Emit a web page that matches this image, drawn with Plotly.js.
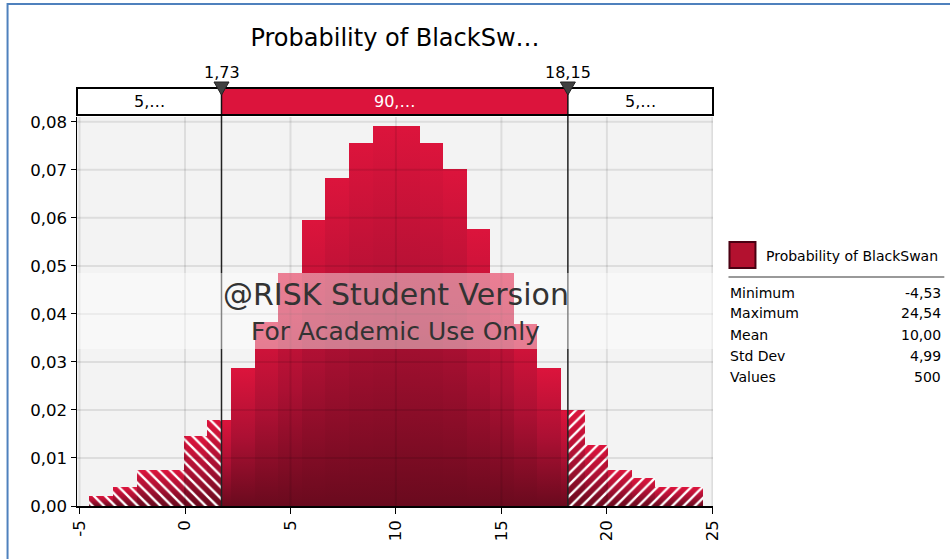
<!DOCTYPE html>
<html><head><meta charset="utf-8">
<script src="https://cdn.plot.ly/plotly-3.0.1.min.js"></script>
<style>html,body{margin:0;padding:0;background:#fff;overflow:hidden}#chart{width:950px;height:559px}
#chart path.js-fill{shape-rendering:crispEdges}</style>
</head><body><div id="chart"></div>
<script>
// ---- data ----
const binEdges = [-4.53, -3.41, -2.29, -1.18, -0.06, 1.06, 2.18, 3.30, 4.41, 5.53, 6.65, 7.77, 8.89,
  10.01, 11.12, 12.24, 13.36, 14.48, 15.60, 16.71, 17.83, 18.95, 20.07, 21.19, 22.30, 23.42, 24.54];
const density = [0.0021, 0.0039, 0.0076, 0.0076, 0.0146, 0.0180, 0.0287, 0.0384, 0.0485, 0.0595,
  0.0682, 0.0755, 0.0791, 0.0791, 0.0755, 0.0701, 0.0576, 0.0485, 0.0379, 0.0287, 0.0200, 0.0126,
  0.0076, 0.0058, 0.0039, 0.0039];
const cutLow = 1.73, cutHigh = 18.15;
const cutLabels = ['1,73', '18,15'];
const bandLabels = ['5,…', '90,…', '5,…'];
const xTicks = [-5, 0, 5, 10, 15, 20, 25];
const xTickLabels = ['-5', '0', '5', '10', '15', '20', '25'];
const yTicks = [0, 0.01, 0.02, 0.03, 0.04, 0.05, 0.06, 0.07, 0.08];
const yTickLabels = ['0,00', '0,01', '0,02', '0,03', '0,04', '0,05', '0,06', '0,07', '0,08'];
const titleText = 'Probability of BlackSw…';
const seriesName = 'Probability of BlackSwan';
const statNames = ['Minimum', 'Maximum', 'Mean', 'Std Dev', 'Values'];
const statValues = ['-4,53', '24,54', '10,00', '4,99', '500'];
const watermark = ['@RISK Student Version', 'For Academic Use Only'];

// ---- layout geometry (pixels) ----
const W = 950, H = 559, L = 77, R = 713.5, T = 117, B = 506;
const XMIN = -5.12, XMAX = 25.03;
const px = p => (p - L) / (R - L);
const py = p => (B - p) / (B - T);
const FONT = 'DejaVu Sans';
const crimson = '#DC143C', dark = '#6A0A1E';

const traces = [];
for (let i = 0; i < density.length; i++) {
  const a = binEdges[i], b = binEdges[i + 1], h = density[i];
  traces.push({
    type: 'scatter', mode: 'lines', x: [a, a, b, b, a], y: [0, h, h, 0, 0],
    fill: 'toself', fillcolor: crimson,
    fillgradient: {type: 'vertical', colorscale: [[0, dark], [0.5, '#AC1033'], [1, crimson]]},
    line: {width: 0, color: 'rgba(0,0,0,0)'}, hoverinfo: 'skip', showlegend: false
  });
}
function tailPolygon(lo, hi) {
  const xs = [], ys = [];
  let started = false, lastX = null;
  for (let i = 0; i < density.length; i++) {
    const a = Math.max(binEdges[i], lo), b = Math.min(binEdges[i + 1], hi);
    if (b <= a) continue;
    if (!started) { xs.push(a); ys.push(0); started = true; }
    xs.push(a, b); ys.push(density[i], density[i]);
    lastX = b;
  }
  xs.push(lastX, xs[0]); ys.push(0, 0);
  return {xs, ys};
}
const leftTail = tailPolygon(-1e9, cutLow), rightTail = tailPolygon(cutHigh, 1e9);
[[leftTail, '\\'], [rightTail, '/']].forEach(([p, sh]) => traces.push({
  type: 'scatter', mode: 'lines', x: p.xs, y: p.ys, fill: 'toself', fillcolor: 'rgba(0,0,0,0)',
  fillpattern: {shape: sh, fgcolor: '#FFFFFF', bgcolor: 'rgba(0,0,0,0)', size: 8, solidity: 0.3},
  line: {width: 0, color: 'rgba(0,0,0,0)'}, hoverinfo: 'skip', showlegend: false
}));

const shapes = [];
// grid lines drawn over the bars, like the reference
xTicks.forEach(v => shapes.push({type: 'line', layer: 'above', xref: 'x', yref: 'paper', x0: v, x1: v, y0: 0, y1: 1,
  line: {color: 'rgba(0,0,0,0.09)', width: 2}}));
yTicks.forEach(v => v > 0 && shapes.push({type: 'line', layer: 'above', xref: 'paper', yref: 'y', x0: 0, x1: 1, y0: v, y1: v,
  line: {color: 'rgba(0,0,0,0.09)', width: 2}}));
// cutoff lines
[cutLow, cutHigh].forEach(v => shapes.push({type: 'line', layer: 'above', xref: 'x', yref: 'paper', x0: v, x1: v,
  y0: 0, y1: py(88), line: {color: '#222', width: 1.5}}));
// top probability band
shapes.push({type: 'rect', layer: 'above', xref: 'paper', yref: 'paper', x0: 0, x1: 1, y0: py(115), y1: py(88),
  fillcolor: '#FFFFFF', line: {width: 0}});
shapes.push({type: 'rect', layer: 'above', xref: 'x', yref: 'paper', x0: cutLow, x1: cutHigh, y0: py(115), y1: py(88),
  fillcolor: crimson, line: {width: 0}});
[cutLow, cutHigh].forEach(v => shapes.push({type: 'line', layer: 'above', xref: 'x', yref: 'paper', x0: v, x1: v,
  y0: py(115), y1: py(88), line: {color: '#111', width: 1.5}}));
shapes.push({type: 'rect', layer: 'above', xref: 'paper', yref: 'paper', x0: 0, x1: 1, y0: py(115), y1: py(88),
  fillcolor: 'rgba(0,0,0,0)', line: {color: '#000', width: 2}});
// triangles
[cutLow, cutHigh].forEach(v => shapes.push({type: 'path', layer: 'above', xref: 'x', yref: 'paper',
  xsizemode: 'pixel', ysizemode: 'pixel', xanchor: v, yanchor: py(82),
  path: 'M -7.5,0 L 7.5,0 L 0,-13 Z', fillcolor: '#404040', line: {color: '#222', width: 1}}));
// watermark band
shapes.push({type: 'rect', layer: 'above', xref: 'paper', yref: 'paper', x0: 0, x1: 1, y0: py(349), y1: py(273),
  fillcolor: 'rgba(255,255,255,0.45)', line: {width: 0}});
// legend box & separator
shapes.push({type: 'rect', layer: 'above', xref: 'paper', yref: 'paper', x0: px(730), x1: px(756), y0: py(268), y1: py(242),
  fillcolor: '#B3112F', line: {color: '#4A0012', width: 2}});
shapes.push({type: 'line', layer: 'above', xref: 'paper', yref: 'paper', x0: px(729), x1: px(945), y0: py(277), y1: py(277),
  line: {color: '#999', width: 2}});
// outer blue frame (top and left)
shapes.push({type: 'line', layer: 'above', xref: 'paper', yref: 'paper', x0: px(7), x1: px(952), y0: py(4), y1: py(4),
  line: {color: '#4F81BD', width: 2}});
shapes.push({type: 'line', layer: 'above', xref: 'paper', yref: 'paper', x0: px(7.5), x1: px(7.5), y0: py(3), y1: py(562),
  line: {color: '#4F81BD', width: 2}});

const ann = [];
const tf = (s, c) => ({family: FONT, size: s, color: c || '#000'});
const A = (o) => ann.push(Object.assign({showarrow: false, xanchor: 'center', yanchor: 'middle'}, o));
A({xref: 'x', yref: 'paper', x: (XMIN + cutLow) / 2, y: py(101.5), text: bandLabels[0], font: tf(16)});
A({xref: 'x', yref: 'paper', x: (cutLow + cutHigh) / 2, y: py(101.5), text: bandLabels[1], font: tf(16, '#FFF')});
A({xref: 'x', yref: 'paper', x: (cutHigh + XMAX) / 2, y: py(101.5), text: bandLabels[2], font: tf(16)});
[cutLow, cutHigh].forEach((v, i) => A({xref: 'x', yref: 'paper', x: v, y: py(72), text: cutLabels[i], font: tf(16)}));
A({xref: 'paper', yref: 'paper', x: px(396), y: py(294), text: watermark[0], font: tf(30, '#333')});
A({xref: 'paper', yref: 'paper', x: px(396), y: py(331), text: watermark[1], font: tf(25, '#333')});
A({xref: 'paper', yref: 'paper', x: px(765), y: py(256), xanchor: 'left', text: seriesName, font: tf(14)});
const rowY = [292.7, 313.3, 334.7, 355.7, 376.7];
statNames.forEach((n, i) => {
  A({xref: 'paper', yref: 'paper', x: px(729), y: py(rowY[i]), xanchor: 'left', text: n, font: tf(14)});
  A({xref: 'paper', yref: 'paper', x: px(944), y: py(rowY[i]), xanchor: 'right', text: statValues[i], font: tf(14)});
});

const layout = {
  width: W, height: H, paper_bgcolor: '#FFFFFF', plot_bgcolor: '#F3F3F3',
  margin: {l: L, r: W - R, t: T, b: H - B, pad: 0},
  showlegend: false,
  title: {text: titleText, font: {family: FONT, size: 24, color: '#000'}, xref: 'paper', x: 0.5, xanchor: 'center',
    yref: 'container', y: 1 - 38 / H, yanchor: 'middle'},
  xaxis: {range: [XMIN, XMAX], tickvals: xTicks, ticktext: xTickLabels, tickangle: -90, ticks: 'outside', ticklen: 6,
    tickcolor: '#000', tickwidth: 1, showline: true, linecolor: '#000', linewidth: 1.5, showgrid: false, zeroline: false,
    tickfont: {family: FONT, size: 16.6, color: '#000'}, fixedrange: true},
  yaxis: {range: [0, 0.081], tickvals: yTicks, ticktext: yTickLabels, ticks: 'outside', ticklen: 5, tickcolor: '#000',
    tickwidth: 1, showline: true, linecolor: '#000', linewidth: 1.5, showgrid: false, zeroline: false,
    tickfont: {family: FONT, size: 16.6, color: '#000'}, fixedrange: true},
  shapes: shapes, annotations: ann
};
Plotly.newPlot('chart', traces, layout, {displayModeBar: false, staticPlot: true});
</script></body></html>
